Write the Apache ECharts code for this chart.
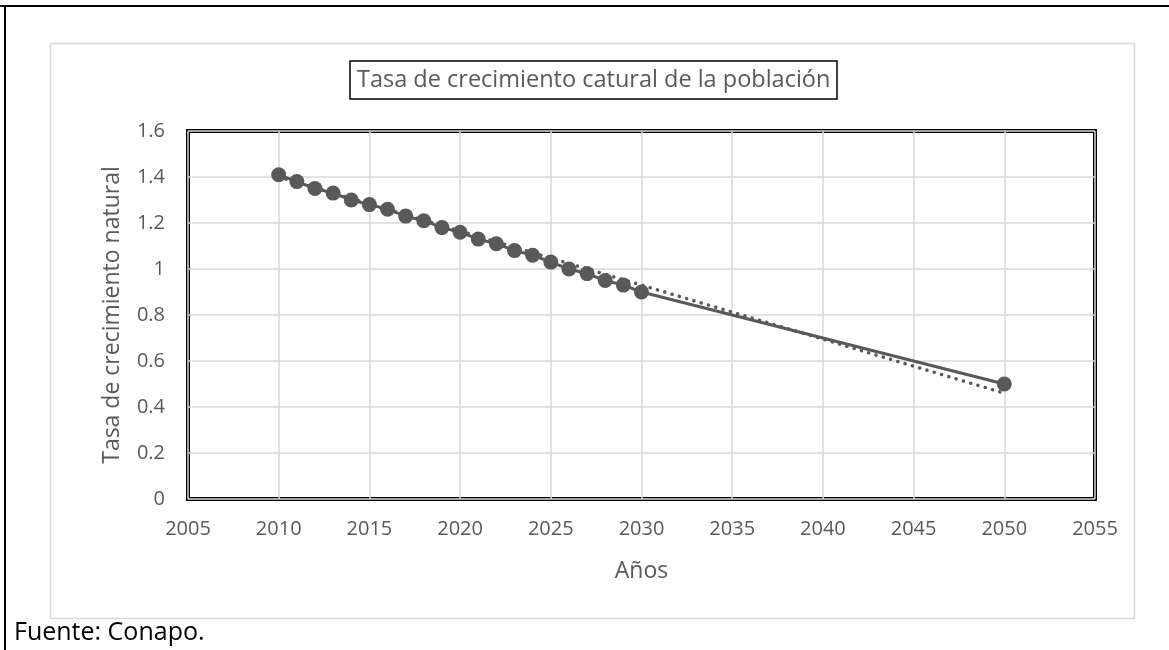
<!DOCTYPE html>
<html>
<head>
<meta charset="utf-8">
<script src="https://cdn.jsdelivr.net/npm/echarts@6/dist/echarts.min.js"></script>
<style>
  html, body { margin: 0; padding: 0; background: #fff; }
  #chart { width: 1169px; height: 650px; }
</style>
</head>
<body>
<div id="chart"></div>
<script>
// datos (Conapo)
var years = [2010, 2011, 2012, 2013, 2014, 2015, 2016, 2017, 2018, 2019, 2020,
             2021, 2022, 2023, 2024, 2025, 2026, 2027, 2028, 2029, 2030, 2050];
var tasa = [1.41, 1.38, 1.35, 1.33, 1.30, 1.28, 1.26, 1.23, 1.21, 1.18, 1.16,
            1.13, 1.11, 1.08, 1.06, 1.03, 1.00, 0.98, 0.95, 0.93, 0.90, 0.50];
// linea de tendencia (extremos leidos)
var trendYears = [2010, 2050];
var trendValues = [1.40, 0.46];

var titulo = 'Tasa de crecimiento catural de la población';
var nombreY = 'Tasa de crecimiento natural';
var nombreX = 'Años';
var fuente = 'Fuente: Conapo.';

var gris = '#595959';
var font = 'Open Sans';

function pares(xs, ys) {
    return xs.map(function (x, i) { return [x, ys[i]]; });
}

var dom = document.getElementById('chart');
var myChart = echarts.init(dom);

var option = {
    animation: false,
    title: {
        text: titulo,
        left: 350,
        top: 61,
        padding: [7, 7, 7, 7],
        borderColor: '#000',
        borderWidth: 1.5,
        textStyle: { fontFamily: font, fontSize: 23.5, fontWeight: 'normal', color: gris }
    },
    grid: {
        left: 188,
        right: 74,
        top: 131,
        bottom: 151,
        show: true,
        borderColor: '#000',
        borderWidth: 4
    },
    xAxis: {
        type: 'value',
        min: 2005,
        max: 2055,
        interval: 5,
        name: nombreX,
        nameLocation: 'middle',
        nameGap: 61,
        nameTextStyle: { fontFamily: font, fontSize: 23, color: gris },
        axisLine: { show: false },
        axisTick: { show: false },
        axisLabel: {
            fontFamily: font, fontSize: 20, color: gris, margin: 20,
            formatter: function (v) { return String(v); }
        },
        splitLine: { show: true, lineStyle: { color: '#d9d9d9', width: 1.5 } }
    },
    yAxis: {
        type: 'value',
        min: 0,
        max: 1.6,
        interval: 0.2,
        name: nombreY,
        nameLocation: 'middle',
        nameGap: 64,
        nameTextStyle: { fontFamily: font, fontSize: 23, color: gris },
        axisLine: { show: false },
        axisTick: { show: false },
        axisLabel: { fontFamily: font, fontSize: 20, color: gris, margin: 23 },
        splitLine: { show: true, lineStyle: { color: '#d9d9d9', width: 1.5 } }
    },
    series: [
        {
            type: 'line',
            data: pares(years, tasa),
            symbol: 'circle',
            symbolSize: 15,
            itemStyle: { color: gris },
            lineStyle: { color: gris, width: 3 }
        },
        {
            type: 'line',
            data: pares(trendYears, trendValues),
            symbol: 'none',
            lineStyle: { color: gris, width: 3.5, type: [0.1, 7.5], cap: 'round' },
            z: 3
        }
    ],
    graphic: [
        { type: 'line', shape: { x1: 0, y1: 6, x2: 1169, y2: 6 }, style: { stroke: '#000', lineWidth: 2 } },
        { type: 'line', shape: { x1: 5, y1: 6, x2: 5, y2: 650 }, style: { stroke: '#000', lineWidth: 2 } },
        { type: 'rect', shape: { x: 50.5, y: 43.5, width: 1084, height: 575 },
          style: { fill: null, stroke: '#d9d9d9', lineWidth: 1.5 }, z: -1 },
        { type: 'text', left: 14, top: 620,
          style: { text: fuente, fontFamily: font, fontSize: 25, fill: '#000' } }
    ]
};

if (option && typeof option === 'object') {
    myChart.setOption(option, true);
}
window.onresize = function () {
    myChart.resize();
};
</script>
</body>
</html>
